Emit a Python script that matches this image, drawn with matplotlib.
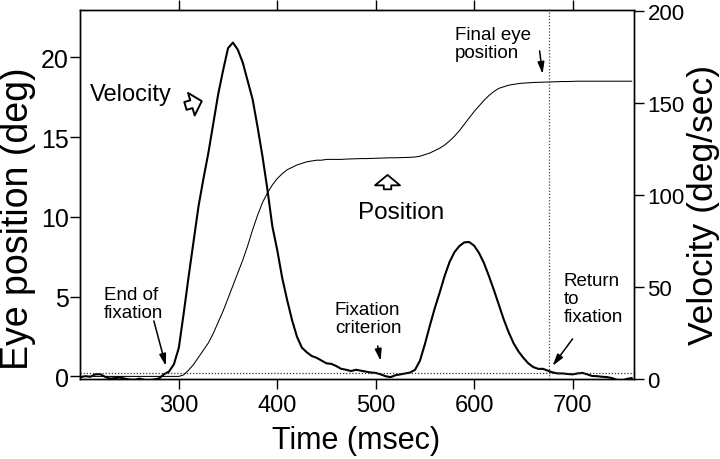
import matplotlib
matplotlib.use("Agg")
import matplotlib.pyplot as plt
from matplotlib.patches import FancyArrowPatch

plt.rcParams['font.family'] = ['Liberation Sans', 'DejaVu Sans']

# ---------------- data ----------------
time_ms = [200, 205, 210, 215, 220, 225, 230, 235, 240, 245,
           250, 255, 260, 265, 270, 275, 280, 285, 290, 295,
           300, 305, 310, 315, 320, 325, 330, 335, 340, 345,
           350, 355, 360, 365, 370, 375, 380, 385, 390, 395,
           400, 405, 410, 415, 420, 425, 430, 435, 440, 445,
           450, 455, 460, 465, 470, 475, 480, 485, 490, 495,
           500, 505, 510, 515, 520, 525, 530, 535, 540, 545,
           550, 555, 560, 565, 570, 575, 580, 585, 590, 595,
           600, 605, 610, 615, 620, 625, 630, 635, 640, 645,
           650, 655, 660, 665, 670, 675, 680, 685, 690, 695,
           700, 705, 710, 715, 720, 725, 730, 735, 740, 745,
           750, 755, 760]

velocity_dps = [1.0, 1.5, 1.2, 2.5, 2.6, 1.2, 0.2, 0.5, 0.8, 0.2,
                -0.3, -0.5, 0.2, -0.5, -0.6, -0.3, 0.3, 2.6, 4.0, 8.0,
                17, 36, 56, 75, 94, 109, 123, 139, 155, 168,
                180, 183, 179, 172, 162, 152, 137, 121, 103, 83,
                70, 55, 43, 32, 23, 17, 14.5, 12.5, 11.5, 10,
                8.5, 8.2, 7, 5.5, 5, 4.3, 5, 4.5, 4, 3.5,
                3.3, 2.5, 1.5, 1, 2, 2.5, 3, 3.5, 5, 10,
                19, 29, 38.5, 47, 56, 63.6, 69, 72.3, 74.3, 74.5,
                72.5, 68.5, 63, 56, 48.5, 40.5, 32.5, 25.5, 19.5, 15,
                11.5, 8.5, 6.5, 5.5, 5.5, 4.5, 3.5, 3, 3, 2.7,
                2.5, 3, 3.3, 2.5, 1.6, 1.5, 1.2, 1, 0.5, -0.5,
                -1, 0, 0.5]

position_deg = [0.0, 0.0, 0.0, 0.0, 0.0, 0.0, 0.0, 0.0, 0.0, 0.0,
                0.0, 0.0, 0.0, 0.0, 0.0, 0.0, 0.0, 0.0, 0.0, 0.0,
                0.0, 0.1, 0.4, 0.75, 1.2, 1.65, 2.1, 2.7, 3.4, 4.1,
                4.9, 5.7, 6.5, 7.3, 8.2, 9.2, 10.1, 10.9, 11.5, 12.0,
                12.4, 12.7, 12.95, 13.1, 13.25, 13.35, 13.45, 13.5, 13.55, 13.55,
                13.6, 13.6, 13.6, 13.6, 13.62, 13.63, 13.64, 13.65, 13.65, 13.66,
                13.67, 13.68, 13.69, 13.7, 13.7, 13.71, 13.72, 13.73, 13.75, 13.8,
                13.9, 14.0, 14.15, 14.3, 14.5, 14.75, 15.05, 15.4, 15.8, 16.2,
                16.6, 16.95, 17.3, 17.6, 17.85, 18.05, 18.15, 18.25, 18.3, 18.35,
                18.38, 18.4, 18.42, 18.43, 18.44, 18.45, 18.46, 18.47, 18.48, 18.48,
                18.49, 18.5, 18.5, 18.5, 18.5, 18.5, 18.5, 18.5, 18.5, 18.5,
                18.5, 18.5, 18.5]

fixation_criterion_dps = 3.3
end_time_ms = 676.5

x_ticks = [300, 400, 500, 600, 700]
left_ticks = [0, 5, 10, 15, 20]
right_ticks = [0, 50, 100, 150, 200]

# ---------------- figure ----------------
fig = plt.figure(figsize=(7.2, 4.6), dpi=100)
ax = fig.add_axes([0.111, 0.174, 0.769, 0.802])
ax2 = ax.twinx()

ax.set_xlim(199.5, 762)
ax.set_ylim(-0.16, 22.96)
ax2.set_ylim(0, 200.7)

ax.plot(time_ms, position_deg, color='black', lw=0.75)
ax2.plot(time_ms, velocity_dps, color='black', lw=1.5)

ax2.axhline(fixation_criterion_dps, color='#333333', lw=0.9, ls=(0, (1, 1.5)))
ax.axvline(end_time_ms, color='#444444', lw=0.9, ls=(0, (1, 1.5)))

ax.set_xticks(x_ticks)
ax.set_yticks(left_ticks)
ax2.set_yticks(right_ticks)

ax.tick_params(axis='x', direction='out', length=7, width=1, top=True,
               labeltop=False, labelsize=17, pad=4)
ax.tick_params(axis='y', direction='out', length=7, width=1, labelsize=18, pad=1)
ax2.tick_params(axis='y', direction='out', length=7, width=1, labelsize=16, pad=3)

for a in (ax, ax2):
    for s in a.spines.values():
        s.set_linewidth(1.0)

fig.text(0.495, 0.041, 'Time (msec)', ha='center', va='center', fontsize=22)
fig.text(0.025, 0.525, 'Eye position (deg)', ha='center', va='center',
         rotation=90, fontsize=27)
fig.text(0.977, 0.554, 'Velocity (deg/sec)', ha='center', va='center',
         rotation=90, fontsize=25.5)

# ---------------- annotations ----------------
ax.text(209.5, 17.7, 'Velocity', fontsize=17, ha='left', va='center')
ax.add_patch(FancyArrowPatch((304, 16.9), (326, 17.3),
                             arrowstyle='simple,head_length=0.6,head_width=1.3,tail_width=0.45',
                             mutation_scale=13, fc='white', ec='black', lw=1.4))

ax.text(525.5, 10.3, 'Position', fontsize=17.5, ha='center', va='center')
ax.add_patch(FancyArrowPatch((512, 11.55), (512, 12.8),
                             arrowstyle='simple,head_length=0.5,head_width=1.2,tail_width=0.36',
                             mutation_scale=15, fc='white', ec='black', lw=1.3))

small = dict(fontsize=13.5, linespacing=1.1, ha='left', va='top')
arrow = dict(arrowstyle='-|>,head_length=0.7,head_width=0.2', color='black', lw=1.1,
             shrinkA=0, shrinkB=0)

ax.text(580.2, 21.95, 'Final eye\nposition', **small)
ax.annotate('', xy=(669.5, 18.95), xytext=(666.5, 20.4), arrowprops=arrow)

ax.text(223.9, 5.67, 'End of\nfixation', **small)
ax.annotate('', xy=(286.8, 0.66), xytext=(274.6, 3.48), arrowprops=arrow)

ax.text(458.4, 4.73, 'Fixation\ncriterion', **small)
ax.annotate('', xy=(505, 0.97), xytext=(502, 1.91), arrowprops=arrow)

ax.text(690.9, 6.55, 'Return\nto\nfixation', **small)
ax.annotate('', xy=(679.7, 0.66), xytext=(700, 2.35), arrowprops=arrow)

fig.savefig('out.png', dpi=100, facecolor='white')
